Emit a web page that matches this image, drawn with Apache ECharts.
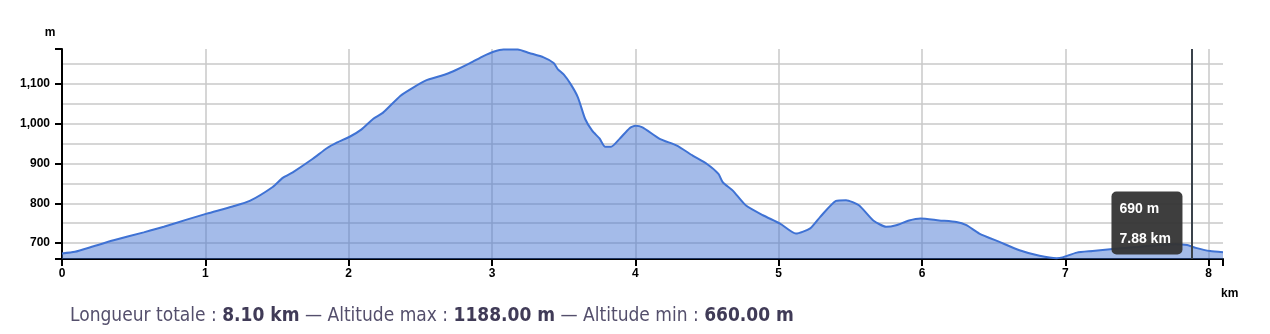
<!DOCTYPE html>
<html>
<head>
<meta charset="utf-8">
<script src="https://cdn.jsdelivr.net/npm/echarts@6/dist/echarts.min.js"></script>
<style>
html,body{margin:0;padding:0;background:#fff;}
#c{width:1270px;height:334px;}
</style>
</head>
<body>
<div id="c"></div>
<script>
// distance (km) and altitude (m) read from the profile
const distKm = [0.00,0.09,0.22,0.36,0.57,0.71,0.87,1.01,1.19,1.31,1.47,1.54,1.61,1.75,1.85,1.92,2.01,2.09,2.17,2.24,2.36,2.45,2.54,2.64,2.73,2.85,2.94,3.01,3.08,3.18,3.26,3.36,3.43,3.46,3.50,3.55,3.60,3.65,3.70,3.75,3.79,3.83,3.89,3.96,4.00,4.05,4.17,4.29,4.40,4.50,4.58,4.61,4.68,4.77,4.89,5.01,5.12,5.22,5.29,5.40,5.47,5.56,5.66,5.75,5.82,5.91,5.99,6.12,6.24,6.31,6.40,6.54,6.68,6.82,6.94,6.98,7.08,7.19,7.33,7.50,7.65,7.77,7.85,7.91,8.01,8.10];
const altM   = [674,678,692,707,727,741,759,774,792,806,841,864,878,912,939,953,968,986,1012,1028,1070,1091,1109,1120,1132,1153,1170,1181,1187,1187,1178,1167,1153,1137,1124,1099,1066,1012,982,963,942,942,962,989,995,991,962,945,920,899,874,853,832,795,770,749,724,737,766,806,808,795,757,741,745,757,762,757,753,745,724,703,682,668,662,664,676,680,685,690,695,697,695,688,680,677];

const xTickLabels = [0,1,2,3,4,5,6,7,8];
const xMin = 0, xMax = 8.1;
const yTickLabels = [700,800,900,1000,1100];
const yGridValues = [700,750,800,850,900,950,1000,1050,1100,1150];
const yMin = 660, yMax = 1188;

const tipKm = 7.88, tipAlt = 690;
const totalLength = '8.10', altMax = '1188.00', altMin = '660.00';

const seriesData = distKm.map((d,i)=>[d, altM[i]]);

const chart = echarts.init(document.getElementById('c'), null, {renderer:'canvas'});
const labelFont = {color:'#000', fontWeight:'bold', fontSize:12, fontFamily:'Liberation Sans, Arial, sans-serif'};
const footFont = 'DejaVu Sans Condensed, DejaVu Sans, sans-serif';

chart.setOption({
  animation:false,
  title:{
    left:70, top:307, padding:0,
    text:'{n|Longueur totale : }{b|'+totalLength+' km}{n| — Altitude max : }{b|'+altMax+' m}{n| — Altitude min : }{b|'+altMin+' m}',
    textStyle:{
      fontWeight:'normal',
      rich:{
        n:{fontFamily:footFont, fontSize:19, fontWeight:'normal', color:'#544f6c'},
        b:{fontFamily:footFont, fontSize:19, fontWeight:'bold', color:'#403b57'}
      }
    }
  },
  grid:{left:62, right:47, top:49, bottom:75, containLabel:false},
  xAxis:[{
    type:'value', min:xMin, max:xMax, position:'bottom',
    name:'km', nameLocation:'end', nameGap:-2,
    nameTextStyle:Object.assign({}, labelFont, {align:'left', verticalAlign:'top', padding:[29,0,0,0]}),
    axisLine:{show:true, onZero:false, lineStyle:{color:'#000', width:2}},
    axisTick:{show:true, length:7, customValues:xTickLabels, lineStyle:{color:'#000', width:2}},
    axisLabel:Object.assign({}, labelFont, {margin:9, customValues:xTickLabels}),
    splitLine:{show:true, lineStyle:{color:'#c8c8c8', width:1.5}}
  },{
    type:'value', min:xMin, max:xMax, position:'bottom',
    axisLine:{show:false},
    axisTick:{show:true, length:7, customValues:[xMax], lineStyle:{color:'#000', width:2}},
    axisLabel:{show:false},
    splitLine:{show:false}
  }],
  yAxis:[{
    type:'value', min:yMin, max:yMax, position:'left',
    name:'m', nameLocation:'end', nameGap:10,
    nameTextStyle:Object.assign({}, labelFont, {align:'center', padding:[0,24,0,0]}),
    axisLine:{show:true, onZero:false, lineStyle:{color:'#000', width:2}},
    axisTick:{show:true, length:7, customValues:[yMin].concat(yTickLabels, [yMax]), lineStyle:{color:'#000', width:2}},
    axisLabel:Object.assign({}, labelFont, {margin:12, customValues:yTickLabels, formatter:(v)=>v.toLocaleString('en-US')}),
    splitLine:{show:false}
  },{
    type:'value', min:yMin, max:yMax, position:'left',
    axisLine:{show:false},
    axisTick:{show:false, customValues:yGridValues},
    axisLabel:{show:false},
    splitLine:{show:true, lineStyle:{color:'#c8c8c8', width:1.5}}
  }],
  series:[{
    type:'line',
    xAxisIndex:0, yAxisIndex:0,
    data:seriesData,
    smooth:0.2,
    showSymbol:false,
    lineStyle:{color:'#3f72d4', width:2},
    areaStyle:{color:'rgb(64,112,208)', opacity:0.48, origin:'start'},
    markLine:{
      silent:true, symbol:['none','none'],
      label:{show:false},
      lineStyle:{color:'#3a424b', width:2, type:'solid'},
      data:[{xAxis:tipKm}]
    },
    markPoint:{
      symbol:'circle', symbolSize:1,
      itemStyle:{color:'rgba(0,0,0,0)'},
      label:{
        show:true, position:'inside', offset:[-80,-24],
        formatter:'{a|'+tipAlt+' m}\n{a|'+tipKm.toFixed(2)+' km}',
        backgroundColor:'rgba(52,52,52,0.95)', borderRadius:5,
        padding:[3,9,0,8], width:54, align:'left',
        rich:{a:{color:'#fff', fontWeight:'bold', fontSize:14, fontFamily:'Liberation Sans, Arial, sans-serif', lineHeight:30, width:54, align:'left'}}
      },
      data:[{coord:[tipKm, tipAlt]}]
    }
  }]
});
</script>
</body>
</html>
